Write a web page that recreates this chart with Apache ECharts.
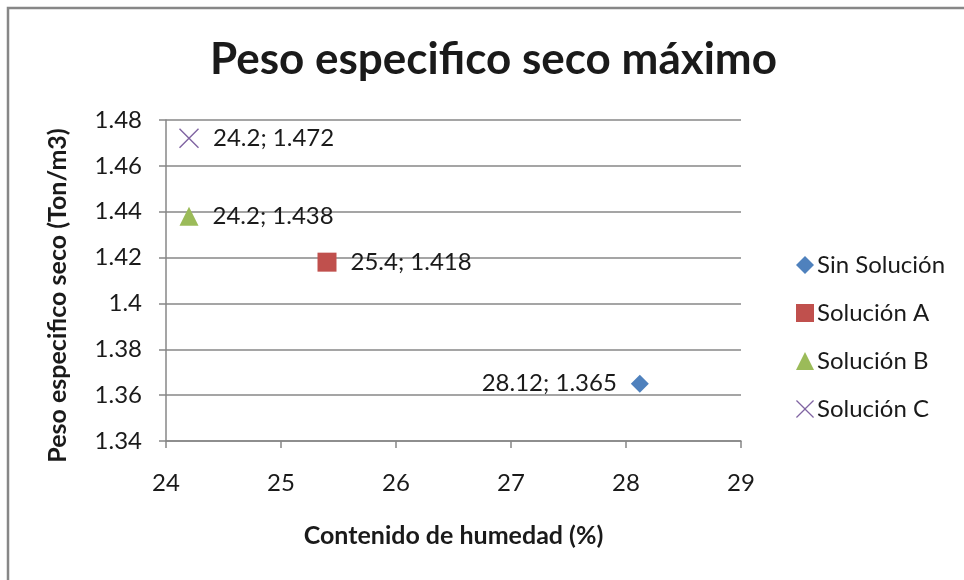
<!DOCTYPE html>
<html>
<head>
<meta charset="utf-8">
<script src="https://cdn.jsdelivr.net/npm/echarts@6/dist/echarts.min.js"></script>
<style>
  html, body { margin: 0; padding: 0; background: #fff; }
  #chart { width: 964px; height: 580px; }
</style>
</head>
<body>
<div id="chart"></div>
<script>
// Maximum dry unit weight vs. moisture content for each treatment
const seriesNames = ['Sin Solución', 'Solución A', 'Solución B', 'Solución C'];
const humedad = [28.12, 25.4, 24.2, 24.2];          // Contenido de humedad (%)
const pesoSeco = [1.365, 1.418, 1.438, 1.472];      // Peso especifico seco (Ton/m3)
const colors = ['#4F81BD', '#C0504D', '#9BBB59', '#8064A2'];
const xTicks = [24, 25, 26, 27, 28, 29];
const yTicks = [1.34, 1.36, 1.38, 1.4, 1.42, 1.44, 1.46, 1.48];

const FONT = 'Lato, "Open Sans", sans-serif';
const crossPath = 'path://M0,1L1,0L10,9L19,0L20,1L11,10L20,19L19,20L10,11L1,20L0,19L9,10Z';
const symbols = ['diamond', 'rect', 'triangle', crossPath];
const symbolSizes = [18, 19, 19, 20];
const labelPos = ['left', 'right', 'right', 'right'];

const chart = echarts.init(document.getElementById('chart'));

const series = seriesNames.map((name, i) => ({
  name: name,
  type: 'scatter',
  data: [[humedad[i], pesoSeco[i]]],
  symbol: symbols[i],
  symbolSize: symbolSizes[i],
  itemStyle: { color: colors[i], opacity: 1 },
  label: {
    show: true,
    position: labelPos[i],
    distance: 14,
    color: '#1a1a1a',
    fontFamily: FONT,
    fontSize: 24,
    formatter: p => p.value[0] + '; ' + p.value[1]
  },
  emphasis: { disabled: true }
}));

chart.setOption({
  animation: false,
  backgroundColor: '#ffffff',
  graphic: [{
    type: 'rect',
    shape: { x: 8, y: 8, width: 1000, height: 600 },
    style: { fill: 'none', stroke: '#878787', lineWidth: 2.5 },
    silent: true
  }],
  title: {
    text: 'Peso especifico seco máximo',
    left: 210,
    top: 38,
    textStyle: { fontFamily: FONT, fontWeight: 'bold', fontSize: 44, color: '#1a1a1a' },
    padding: 0,
    itemGap: 0
  },
  legend: {
    orient: 'vertical',
    left: 791,
    top: 248,
    itemGap: 24,
    itemWidth: 18,
    itemHeight: 18,
    itemStyle: { borderWidth: 0, opacity: 1 },
    textStyle: { fontFamily: FONT, fontSize: 24, color: '#1a1a1a', padding: [0, 0, 0, -2] },
    data: seriesNames.map((n, i) => ({ name: n, icon: symbols[i] }))
  },
  grid: { left: 166, right: 223, top: 120, bottom: 139, containLabel: false },
  xAxis: {
    type: 'value',
    min: xTicks[0],
    max: xTicks[xTicks.length - 1],
    interval: 1,
    name: 'Contenido de humedad (%)',
    nameLocation: 'middle',
    nameGap: 82,
    nameTextStyle: { fontFamily: FONT, fontWeight: 'bold', fontSize: 25, color: '#1a1a1a' },
    axisLine: { show: true, lineStyle: { color: '#878787', width: 1.5 } },
    axisTick: { show: true, length: 7, lineStyle: { color: '#878787', width: 1.5 } },
    axisLabel: { margin: 30, fontFamily: FONT, fontSize: 24, color: '#1a1a1a' },
    splitLine: { show: false }
  },
  yAxis: {
    type: 'value',
    min: yTicks[0],
    max: yTicks[yTicks.length - 1],
    interval: 0.02,
    name: 'Peso especifico seco (Ton/m3)',
    nameLocation: 'middle',
    nameGap: 96,
    nameTextStyle: { fontFamily: FONT, fontWeight: 'bold', fontSize: 25, color: '#1a1a1a', padding: [0, 30, 0, 0] },
    axisLine: { show: true, lineStyle: { color: '#878787', width: 1.5 } },
    axisTick: { show: true, length: 7, lineStyle: { color: '#878787', width: 1.5 } },
    axisLabel: {
      margin: 24,
      fontFamily: FONT,
      fontSize: 24,
      color: '#1a1a1a',
      formatter: v => String(Math.round(v * 1000) / 1000)
    },
    splitLine: { show: true, lineStyle: { color: '#878787', width: 1.5 } }
  },
  series: series
});
</script>
</body>
</html>
